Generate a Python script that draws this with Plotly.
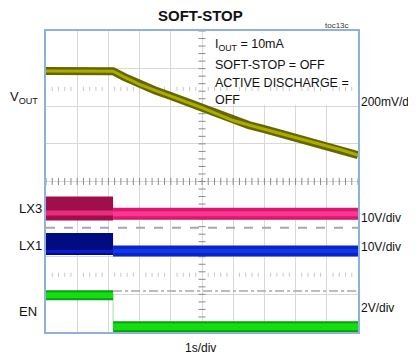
import numpy as np
import plotly.graph_objects as go

# scope screen: 10 x 8 divisions, 1 s/div
vout_t = [0, 0.5, 1.0, 1.5, 2.0, 2.15, 2.5, 3.0, 3.5, 4.0, 4.5, 5.0, 5.5,
          6.0, 6.5, 7.0, 7.5, 8.0, 8.5, 9.0, 9.5, 10.0]
vout_div = [6.94, 6.94, 6.95, 6.94, 6.94, 6.93, 6.78, 6.58, 6.42, 6.27, 6.12,
            5.96, 5.79, 5.62, 5.50, 5.39, 5.28, 5.17, 5.06, 4.95, 4.83, 4.70]

t_off = 2.15
t_end = 10.0
lx3_level = [3.28, 3.14]
lx1_level = [2.34, 2.15]
en_level = [0.98, 0.14]

lx_ground = 2.77
en_marker = 1.09
cursor_rows = [6.46, 1.52]

note_lines = ["I<sub>OUT</sub> = 10mA", "SOFT-STOP = OFF",
              "ACTIVE DISCHARGE =", "OFF"]
note_y = [7.63, 7.10, 6.62, 6.17]

left_labels = ["V<sub>OUT</sub>", "LX3", "LX1", "EN"]
left_px = [(24, 97), (30, 208), (30, 245), (28, 311)]
right_labels = ["200mV/div", "10V/div", "10V/div", "2V/div"]
right_py = [102, 218, 247, 308]

FONT = "Liberation Sans, Arial, sans-serif"
# plot box in page pixels; the page body adds an 8 px offset
L, R, T, B = 46, 358, 31, 332
OFF = 8
W, H = 416 - OFF, 362 - OFF


def px2paper(px, py):
    return (px - L) / (R - L), (B - py) / (B - T)


fig = go.Figure()


def band(x, y, outer, inner, w_out, w_in, shift=0.0):
    fig.add_trace(go.Scatter(x=x, y=y, mode="lines",
                             line=dict(color=outer, width=w_out)))
    fig.add_trace(go.Scatter(x=x, y=[v + shift for v in y], mode="lines",
                             line=dict(color=inner, width=w_in)))


# reference markers
fig.add_trace(go.Scatter(x=[0, t_end], y=[lx_ground, lx_ground], mode="lines",
                         line=dict(color="#a8a8a8", width=2, dash="dash")))
fig.add_trace(go.Scatter(x=[t_off, t_end], y=[en_marker, en_marker], mode="lines",
                         line=dict(color="#a8a8a8", width=1.5, dash="dashdot")))

# graticule ticks (centre cross + cursor rows)
tk = np.arange(0, 10.01, 0.2)
fig.add_trace(go.Scatter(x=tk, y=[4] * len(tk), mode="markers",
                         marker=dict(symbol="line-ns", size=5,
                                     line=dict(color="#8a8a8a", width=1))))
tky = np.arange(0, 8.01, 0.2)
fig.add_trace(go.Scatter(x=[5] * len(tky), y=tky, mode="markers",
                         marker=dict(symbol="line-ew", size=5,
                                     line=dict(color="#8a8a8a", width=1))))
for r in cursor_rows:
    xs = [v for v in tk if abs(v - round(v)) > 0.05]
    fig.add_trace(go.Scatter(x=xs, y=[r] * len(xs), mode="markers",
                             marker=dict(symbol="line-ns", size=3,
                                         line=dict(color="#c8c8c8", width=1))))

# channels
band(vout_t, vout_div, "#666600", "#acac00", 8, 3)

band([0, t_off], [lx3_level[0]] * 2, "#9e0f4c", "#ec2a80", 24, 5, -0.12)
band([t_off, t_end], [lx3_level[1]] * 2, "#d81a6c", "#ff3592", 12, 5)

band([0, t_off], [lx1_level[0]] * 2, "#000c80", "#0a1cd8", 22, 3, -0.2)
band([t_off, t_end], [lx1_level[1]] * 2, "#0a24c8", "#0f38e8", 11, 4)

fig.add_trace(go.Scatter(x=[t_off, t_off], y=en_level, mode="lines",
                         line=dict(color="#9fe29f", width=1)))
band([0, t_off], [en_level[0]] * 2, "#129a12", "#10e010", 10, 6)
band([t_off, t_end], [en_level[1]] * 2, "#129a12", "#10e010", 11, 7)

# white note box
fig.add_shape(type="rect", x0=5.1, x1=10, y0=6.03, y1=8,
              fillcolor="white", line=dict(width=0), layer="between")

ann = []
for txt, yy in zip(note_lines, note_y):
    ann.append(dict(x=5.35, y=yy, text=txt, showarrow=False, xanchor="left",
                    yanchor="middle", font=dict(size=12.5, color="#111111")))
for txt, (px, py) in zip(left_labels, left_px):
    xp, yp = px2paper(px, py)
    ann.append(dict(x=xp, y=yp, xref="paper", yref="paper", text=txt,
                    showarrow=False, xanchor="center", yanchor="middle",
                    font=dict(size=13, color="#111111")))
for txt, py in zip(right_labels, right_py):
    xp, yp = px2paper(359, py)
    ann.append(dict(x=xp, y=yp, xref="paper", yref="paper", text=txt,
                    showarrow=False, xanchor="left", yanchor="middle",
                    font=dict(size=12, color="#111111")))
xp, yp = px2paper(200, 15)
ann.append(dict(x=xp, y=yp, xref="paper", yref="paper", text="<b>SOFT-STOP</b>",
                showarrow=False, xanchor="center", yanchor="middle",
                font=dict(size=15, color="#111111")))
xp, yp = px2paper(337, 25)
ann.append(dict(x=xp, y=yp, xref="paper", yref="paper", text="toc13c",
                showarrow=False, xanchor="center", yanchor="middle",
                font=dict(size=8, color="#333333")))
xp, yp = px2paper(200, 348)
ann.append(dict(x=xp, y=yp, xref="paper", yref="paper", text="1s/div",
                showarrow=False, xanchor="center", yanchor="middle",
                font=dict(size=12, color="#111111")))

fig.update_layout(
    width=W, height=H,
    margin=dict(l=L - OFF, r=416 - R, t=T - OFF, b=362 - B),
    paper_bgcolor="white", plot_bgcolor="white",
    showlegend=False,
    font=dict(family=FONT),
    annotations=ann,
    xaxis=dict(range=[0, 10], dtick=1, showticklabels=False, ticks="",
               showgrid=True, gridcolor="#d8d8d8", gridwidth=1, zeroline=False,
               showline=True, mirror=True, linecolor="#8fb1da", linewidth=1.5),
    yaxis=dict(range=[0, 8], dtick=1, showticklabels=False, ticks="",
               showgrid=True, gridcolor="#d8d8d8", gridwidth=1, zeroline=False,
               showline=True, mirror=True, linecolor="#8fb1da", linewidth=1.5),
)

fig.write_html("out.html")
